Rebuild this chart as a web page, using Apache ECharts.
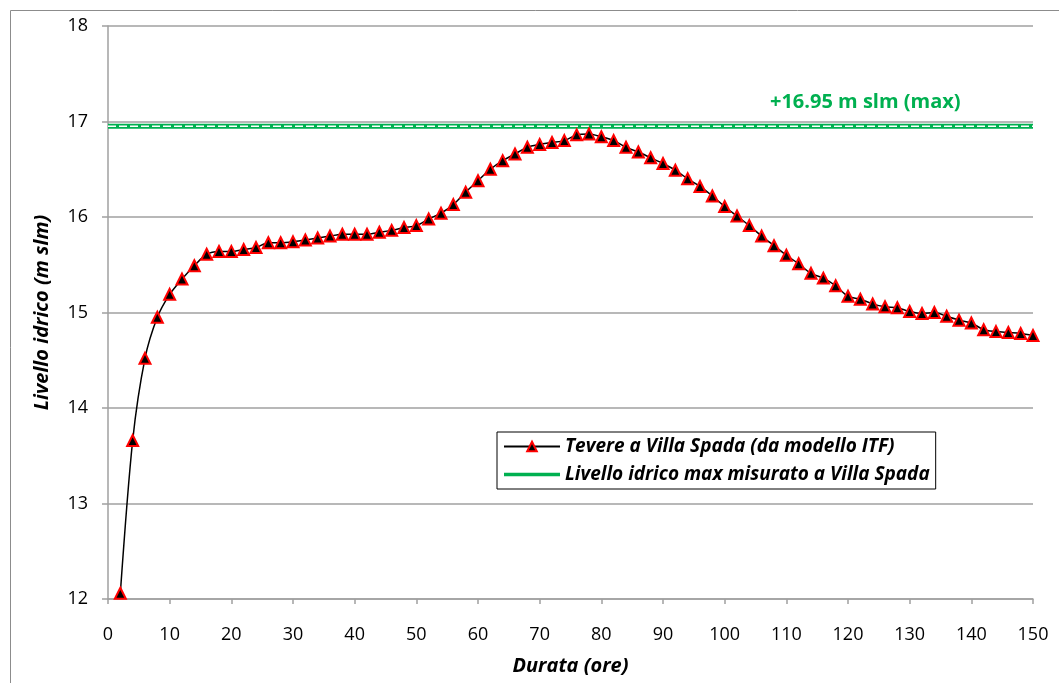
<!DOCTYPE html>
<html>
<head>
<meta charset="utf-8">
<script src="https://cdn.jsdelivr.net/npm/echarts@6/dist/echarts.min.js"></script>
<style>
  html, body { margin: 0; padding: 0; background: #fff; }
  #main { width: 1059px; height: 683px; }
</style>
</head>
<body>
<div id="main"></div>
<script>
// durata (ore)
const hours = [2, 4, 6, 8, 10, 12, 14, 16, 18, 20, 22, 24, 26, 28, 30, 32, 34, 36, 38, 40,
  42, 44, 46, 48, 50, 52, 54, 56, 58, 60, 62, 64, 66, 68, 70, 72, 74, 76, 78, 80,
  82, 84, 86, 88, 90, 92, 94, 96, 98, 100, 102, 104, 106, 108, 110, 112, 114, 116, 118, 120,
  122, 124, 126, 128, 130, 132, 134, 136, 138, 140, 142, 144, 146, 148, 150]
// livello idrico modello ITF (m slm)
const livello = [12.06, 13.66, 14.52, 14.95, 15.19, 15.35, 15.49, 15.61, 15.64, 15.64,
  15.66, 15.68, 15.73, 15.73, 15.74, 15.76, 15.78, 15.80, 15.82, 15.82,
  15.82, 15.84, 15.86, 15.89, 15.91, 15.98, 16.04, 16.13, 16.26, 16.38,
  16.50, 16.59, 16.66, 16.73, 16.76, 16.78, 16.80, 16.86, 16.87, 16.84,
  16.80, 16.73, 16.68, 16.62, 16.56, 16.49, 16.40, 16.32, 16.22, 16.11,
  16.01, 15.91, 15.80, 15.70, 15.60, 15.51, 15.41, 15.36, 15.28, 15.17,
  15.14, 15.09, 15.06, 15.05, 15.01, 14.99, 15.00, 14.96, 14.92, 14.89,
  14.82, 14.80, 14.79, 14.78, 14.76]
// livello max misurato
const maxRange = [0, 150]
const maxLevel = 16.95
const maxLabel = '+16.95 m slm (max)'
const names = ['Tevere a Villa Spada (da modello ITF)', 'Livello idrico max misurato a Villa Spada']

const font = '"Open Sans", "DejaVu Sans", sans-serif'
const grey = '#a0a0a0'
const green = '#00b050'

const chart = echarts.init(document.getElementById('main'), null, { renderer: 'canvas' })

const option = {
  animation: false,
  textStyle: { fontFamily: font },
  grid: { left: 108, right: 26, top: 26, bottom: 84 },
  graphic: [
    {
      // cornice esterna (solo lati sinistro e superiore visibili)
      type: 'polyline',
      shape: { points: [[10.5, 700], [10.5, 10.5], [1070, 10.5]] },
      style: { fill: 'none', stroke: '#8c8c8c', lineWidth: 1 },
      silent: true, z: -1
    },
    {
      type: 'text',
      left: 770, top: 92,
      style: { text: maxLabel, fill: green, font: 'bold 20px ' + font }
    }
  ],
  legend: {
    orient: 'vertical',
    left: 497, top: 432,
    padding: [5, 6, 5, 6],
    itemGap: 9,
    itemWidth: 56,
    itemHeight: 12,
    borderColor: '#000',
    borderWidth: 1,
    backgroundColor: '#fff',
    data: [
      { name: names[0] },
      { name: names[1], icon: 'path://M0,0H60V4H0Z' }
    ],
    textStyle: { fontSize: 19, fontStyle: 'italic', fontWeight: 'bold', color: '#000', fontFamily: font }
  },
  xAxis: {
    type: 'value',
    min: 0, max: 150, interval: 10,
    name: 'Durata (ore)',
    nameLocation: 'middle',
    nameGap: 57,
    nameTextStyle: { fontSize: 20, fontStyle: 'italic', fontWeight: 'bold', color: '#000' },
    axisLine: { lineStyle: { color: grey, width: 1.5 } },
    axisTick: { show: true, length: 5, lineStyle: { color: grey, width: 1.5 } },
    axisLabel: { fontSize: 18, color: '#000', margin: 27 },
    splitLine: { show: false }
  },
  yAxis: {
    type: 'value',
    min: 12, max: 18, interval: 1,
    name: 'Livello idrico (m slm)',
    nameLocation: 'middle',
    nameGap: 56,
    nameTextStyle: { fontSize: 20, fontStyle: 'italic', fontWeight: 'bold', color: '#000' },
    axisLine: { show: true, lineStyle: { color: grey, width: 1.5 } },
    axisTick: { show: true, length: 6, lineStyle: { color: grey, width: 1.5 } },
    axisLabel: { fontSize: 18, color: '#000', margin: 20 },
    splitLine: { lineStyle: { color: grey, width: 1.5 } }
  },
  series: [
    {
      name: names[1],
      type: 'line',
      data: maxRange.map(x => [x, maxLevel]),
      symbol: 'none',
      lineStyle: { color: green, width: 5 },
      itemStyle: { color: green },
      z: 2
    },
    {
      name: names[1],
      type: 'line',
      data: maxRange.map(x => [x, maxLevel]),
      symbol: 'none',
      lineStyle: { color: '#fff', width: 1.5, type: [8, 3] },
      itemStyle: { color: green },
      z: 3
    },
    {
      name: names[0],
      type: 'line',
      data: hours.map((h, i) => [h, livello[i]]),
      smooth: 0.3,
      symbol: 'triangle',
      symbolSize: 11,
      lineStyle: { color: '#000', width: 1.5 },
      itemStyle: { color: '#000', borderColor: '#ff0000', borderWidth: 2 },
      z: 4
    }
  ]
}

chart.setOption(option)
</script>
</body>
</html>
